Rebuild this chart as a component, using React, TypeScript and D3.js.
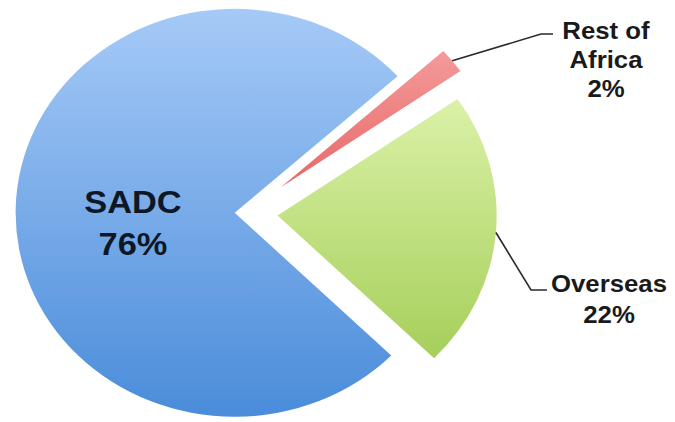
import React from "react";
import * as d3 from "d3";

// ---- data ----
const categories = ["Rest of Africa", "Overseas", "SADC"];
const values = [2, 22, 76];
const labelLines = [["Rest of", "Africa", "2%"], ["Overseas", "22%"], ["SADC", "76%"]];

// ---- layout / style config ----
const W = 675;
const H = 422;
const CX = 246;
const CY = 213;
const SX = 1.074; // horizontal stretch of the original picture
const R = 204;
const START_DEG = 48;
const explode = [41, 29.5, 10.5];
const gradients = [
  ["#f49a9a", "#e86868"],
  ["#dbf1a8", "#a6cf5a"],
  ["#a6caf7", "#4a8cda"],
];
// label placements (screen coords): centre x, first baseline, leader elbow and end
const labelLayout = [
  { x: 606, y: 39, lh: 29, size: 24, elbow: [541, 34], end: [553, 34] },
  { x: 609, y: 292, lh: 31, size: 24, elbow: [531, 290], end: [547, 290] },
  { x: 133, y: 213, lh: 42, size: 32, elbow: null, end: null },
];

export default function App() {
  const toRad = (d: number) => (d * Math.PI) / 180;
  const pie = d3
    .pie<number>()
    .sort(null)
    .value((d) => d)
    .startAngle(toRad(START_DEG))
    .endAngle(toRad(START_DEG + 360));
  const arcs = pie(values);
  const arcGen = d3.arc<d3.PieArcDatum<number>>().innerRadius(0).outerRadius(R);

  const toScreen = (lx: number, ly: number) => [CX + lx * SX, CY + ly];

  return (
    <svg
      width={W}
      height={H}
      style={{ position: "absolute", left: 0, top: 0, background: "#fff" }}
      fontFamily="'Liberation Sans', Arial, sans-serif"
    >
      <defs>
        {gradients.map((g, i) => (
          <linearGradient key={i} id={`grad${i}`} x1="0" y1="0" x2="0" y2="1">
            <stop offset="0%" stopColor={g[0]} />
            <stop offset="100%" stopColor={g[1]} />
          </linearGradient>
        ))}
        <filter id="soft" x="-10%" y="-10%" width="120%" height="120%">
          <feGaussianBlur stdDeviation="0.6" />
        </filter>
      </defs>
      <g transform={`translate(${CX},${CY}) scale(${SX},1)`}>
        {arcs.map((a, i) => {
          const mid = (a.startAngle + a.endAngle) / 2;
          const dx = explode[i] * Math.sin(mid);
          const dy = -explode[i] * Math.cos(mid);
          return (
            <path
              key={categories[i]}
              d={arcGen(a) || ""}
              transform={`translate(${dx},${dy})`}
              fill={`url(#grad${i})`}
              filter="url(#soft)"
            />
          );
        })}
      </g>
      {arcs.map((a, i) => {
        const L = labelLayout[i];
        const mid = (a.startAngle + a.endAngle) / 2;
        const lx = (R + explode[i]) * Math.sin(mid);
        const ly = -(R + explode[i]) * Math.cos(mid);
        const [sx, sy] = toScreen(lx, ly);
        return (
          <g key={categories[i]}>
            {L.elbow && L.end && (
              <polyline
                points={`${sx},${sy} ${L.elbow[0]},${L.elbow[1]} ${L.end[0]},${L.end[1]}`}
                fill="none"
                stroke="#2a2a2a"
                strokeWidth={1.6}
              />
            )}
            {labelLines[i].map((t, j) => (
              <text
                key={j}
                transform={`translate(${L.x},${L.y + j * L.lh}) scale(${SX},1)`}
                textAnchor="middle"
                fontWeight="bold"
                fontSize={L.size}
                fill={i === 2 ? "#0e1726" : "#1a1a1a"}
              >
                {t}
              </text>
            ))}
          </g>
        );
      })}
    </svg>
  );
}
